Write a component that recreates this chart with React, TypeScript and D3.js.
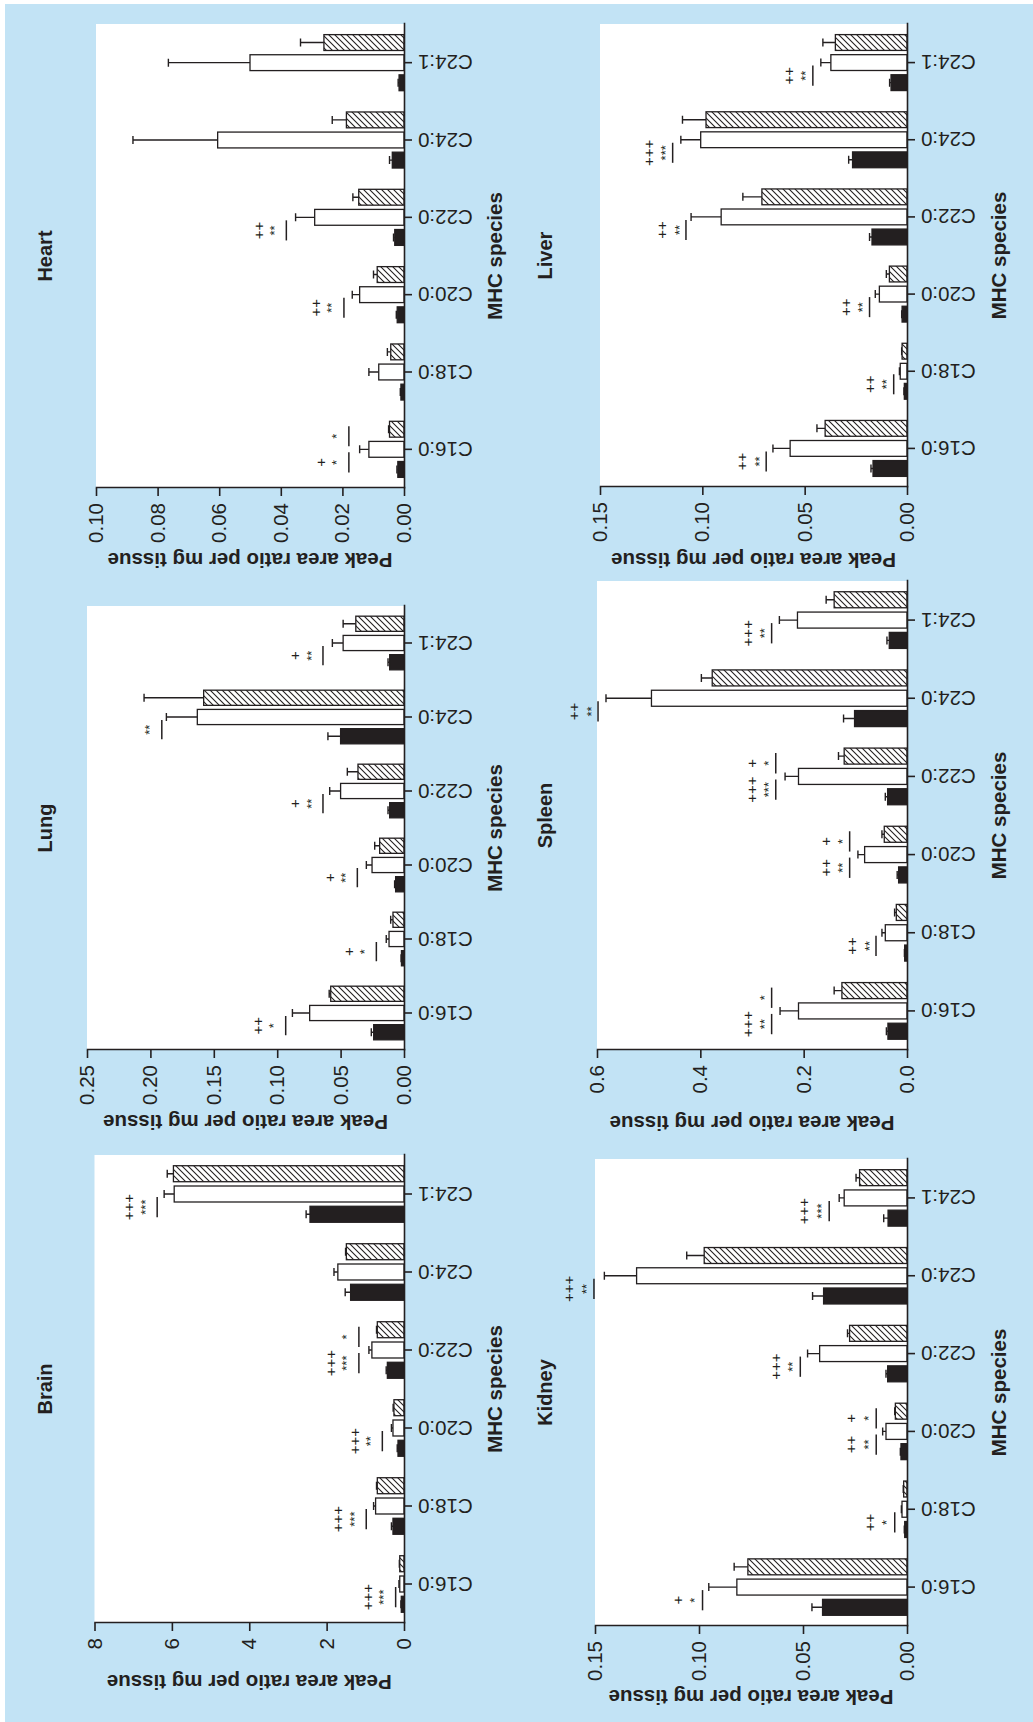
import React, { useEffect, useRef } from 'react';
import * as d3 from 'd3';

const categories = ['C16:0', 'C18:0', 'C20:0', 'C22:0', 'C24:0', 'C24:1'];

// means and SEM for the three groups (black, open, hatched)
const brainBlack = [0.07, 0.285, 0.155, 0.43, 1.38, 2.43];
const brainBlackSem = [0.01, 0.04, 0.02, 0.03, 0.14, 0.1];
const brainWhite = [0.11, 0.734, 0.285, 0.83, 1.71, 5.94];
const brainWhiteSem = [0.02, 0.052, 0.04, 0.077, 0.1, 0.26];
const brainHatched = [0.11, 0.69, 0.26, 0.69, 1.49, 5.96];
const brainHatchedSem = [0.01, 0.02, 0.02, 0.02, 0.02, 0.16];

const lungBlack = [0.0239, 0.002, 0.0066, 0.0113, 0.05, 0.0113];
const lungBlackSem = [0.0019, 0.0003, 0.0008, 0.0013, 0.01, 0.0013];
const lungWhite = [0.0744, 0.0118, 0.0252, 0.05, 0.163, 0.048];
const lungWhiteSem = [0.0136, 0.0022, 0.0045, 0.0086, 0.0244, 0.0085];
const lungHatched = [0.0578, 0.0087, 0.0192, 0.0363, 0.158, 0.038];
const lungHatchedSem = [0.0012, 0.0018, 0.0039, 0.0084, 0.047, 0.01];

const heartBlack = [0.002, 0.001, 0.0022, 0.003, 0.0038, 0.0016];
const heartBlackSem = [0.0003, 0.0002, 0.0003, 0.0004, 0.0009, 0.0003];
const heartWhite = [0.0114, 0.0082, 0.0144, 0.029, 0.0605, 0.05];
const heartWhiteSem = [0.003, 0.0032, 0.0024, 0.0062, 0.0275, 0.0265];
const heartHatched = [0.0047, 0.0043, 0.0087, 0.0147, 0.0187, 0.026];
const heartHatchedSem = [0.0003, 0.0011, 0.0012, 0.0019, 0.0046, 0.0076];

const kidneyBlack = [0.0406, 0.0011, 0.0029, 0.0093, 0.0401, 0.0091];
const kidneyBlackSem = [0.0051, 0.0002, 0.0003, 0.0008, 0.0053, 0.0021];
const kidneyWhite = [0.0818, 0.0024, 0.0101, 0.042, 0.13, 0.0302];
const kidneyWhiteSem = [0.0135, 0.0003, 0.0016, 0.0058, 0.0155, 0.0024];
const kidneyHatched = [0.0765, 0.0016, 0.0056, 0.0276, 0.0975, 0.0228];
const kidneyHatchedSem = [0.0066, 0.0002, 0.0003, 0.001, 0.0084, 0.0017];

const spleenBlack = [0.0369, 0.0045, 0.0162, 0.0375, 0.1015, 0.0343];
const spleenBlackSem = [0.003, 0.0005, 0.0028, 0.0045, 0.0213, 0.0045];
const spleenWhite = [0.21, 0.042, 0.082, 0.21, 0.4946, 0.212];
const spleenWhiteSem = [0.0357, 0.0065, 0.013, 0.026, 0.088, 0.035];
const spleenHatched = [0.126, 0.0207, 0.044, 0.1216, 0.377, 0.141];
const spleenHatchedSem = [0.015, 0.0033, 0.0045, 0.011, 0.021, 0.0155];

const liverBlack = [0.0166, 0.0013, 0.0024, 0.0171, 0.0266, 0.0078];
const liverBlackSem = [0.001, 0.0002, 0.0002, 0.0012, 0.0019, 0.0007];
const liverWhite = [0.0571, 0.0033, 0.0135, 0.0908, 0.1008, 0.0372];
const liverWhiteSem = [0.0084, 0.0004, 0.002, 0.0147, 0.0097, 0.0049];
const liverHatched = [0.04, 0.0024, 0.0086, 0.0709, 0.0982, 0.035];
const liverHatchedSem = [0.004, 0.0002, 0.0015, 0.0093, 0.0115, 0.0061];

// significance marks: [category, pair, bracket level, stars, plus signs]
// pair 'bw' = black vs open, 'wh' = open vs hatched
type Mark = [string, string, number, string, string];
const brainMarks: Mark[] = [
  ['C16:0', 'bw', 0.216, '***', '+++'],
  ['C18:0', 'bw', 0.976, '***', '+++'],
  ['C20:0', 'bw', 0.56, '**', '+++'],
  ['C22:0', 'bw', 1.166, '***', '+++'],
  ['C22:0', 'wh', 1.166, '*', ''],
  ['C24:1', 'bw', 6.38, '***', '+++'],
];
const lungMarks: Mark[] = [
  ['C16:0', 'bw', 0.0933, '*', '++'],
  ['C18:0', 'bw', 0.0218, '*', '+'],
  ['C20:0', 'bw', 0.0368, '**', '+'],
  ['C22:0', 'bw', 0.0639, '**', '+'],
  ['C24:0', 'bw', 0.191, '**', ''],
  ['C24:1', 'bw', 0.0639, '**', '+'],
];
const heartMarks: Mark[] = [
  ['C16:0', 'bw', 0.0179, '*', '+'],
  ['C16:0', 'wh', 0.0179, '*', ''],
  ['C20:0', 'bw', 0.0195, '**', '++'],
  ['C22:0', 'bw', 0.0382, '**', '++'],
];
const kidneyMarks: Mark[] = [
  ['C16:0', 'bw', 0.0983, '*', '+'],
  ['C18:0', 'bw', 0.0059, '*', '++'],
  ['C20:0', 'bw', 0.0148, '**', '++'],
  ['C20:0', 'wh', 0.0148, '*', '+'],
  ['C22:0', 'bw', 0.0513, '**', '+++'],
  ['C24:0', 'bw', 0.1505, '**', '+++'],
  ['C24:1', 'bw', 0.0374, '***', '+++'],
];
const spleenMarks: Mark[] = [
  ['C16:0', 'bw', 0.262, '**', '+++'],
  ['C16:0', 'wh', 0.262, '*', ''],
  ['C18:0', 'bw', 0.06, '**', '++'],
  ['C20:0', 'bw', 0.111, '**', '++'],
  ['C20:0', 'wh', 0.111, '*', '+'],
  ['C22:0', 'bw', 0.254, '***', '+++'],
  ['C22:0', 'wh', 0.254, '*', '+'],
  ['C24:0', 'bw', 0.598, '**', '++'],
  ['C24:1', 'bw', 0.262, '**', '+++'],
];
const liverMarks: Mark[] = [
  ['C16:0', 'bw', 0.0688, '**', '++'],
  ['C18:0', 'bw', 0.0065, '**', '++'],
  ['C20:0', 'bw', 0.0183, '**', '++'],
  ['C22:0', 'bw', 0.108, '**', '++'],
  ['C24:0', 'bw', 0.1145, '***', '+++'],
  ['C24:1', 'bw', 0.046, '**', '++'],
];

const INK = '#231f20';
const FONT = "'Liberation Sans', Arial, Helvetica, sans-serif";

// Panels are laid out in the un-rotated (landscape) frame; the whole figure
// is then turned 90deg counter-clockwise, like the printed page.
const panels = [
  { title: 'Brain', v: [brainBlack, brainWhite, brainHatched], e: [brainBlackSem, brainWhiteSem, brainHatchedSem], marks: brainMarks,
    max: 8, step: 2, fmt: d3.format('d'), x0: 99, x1: 567, top: 94.5, zero: 404, titleOff: 59, head: 45, foot: 494, starOff: 15, plusOff: 28 },
  { title: 'Lung', v: [lungBlack, lungWhite, lungHatched], e: [lungBlackSem, lungWhiteSem, lungHatchedSem], marks: lungMarks,
    max: 0.25, step: 0.05, fmt: d3.format('.2f'), x0: 672, x1: 1116, top: 87, zero: 404, titleOff: 72, head: 45, foot: 494, starOff: 15, plusOff: 28 },
  { title: 'Heart', v: [heartBlack, heartWhite, heartHatched], e: [heartBlackSem, heartWhiteSem, heartHatchedSem], marks: heartMarks,
    max: 0.1, step: 0.02, fmt: d3.format('.2f'), x0: 1234, x1: 1698, top: 96, zero: 404, titleOff: 72, head: 45, foot: 494, starOff: 15, plusOff: 28 },
  { title: 'Kidney', v: [kidneyBlack, kidneyWhite, kidneyHatched], e: [kidneyBlackSem, kidneyWhiteSem, kidneyHatchedSem], marks: kidneyMarks,
    max: 0.15, step: 0.05, fmt: d3.format('.2f'), x0: 96, x1: 563, top: 595, zero: 907, titleOff: 71, head: 545, foot: 998, starOff: 11, plusOff: 25 },
  { title: 'Spleen', v: [spleenBlack, spleenWhite, spleenHatched], e: [spleenBlackSem, spleenWhiteSem, spleenHatchedSem], marks: spleenMarks,
    max: 0.6, step: 0.2, fmt: d3.format('.1f'), x0: 672, x1: 1141, top: 597, zero: 907, titleOff: 73, head: 545, foot: 998, starOff: 10, plusOff: 24 },
  { title: 'Liver', v: [liverBlack, liverWhite, liverHatched], e: [liverBlackSem, liverWhiteSem, liverHatchedSem], marks: liverMarks,
    max: 0.15, step: 0.05, fmt: d3.format('.2f'), x0: 1235, x1: 1698, top: 600, zero: 907, titleOff: 73, head: 545, foot: 998, starOff: 10, plusOff: 24 },
];

function drawPanel(g: any, p: any) {
  const x = d3.scaleBand<string>().domain(categories).range([p.x0, p.x1]);
  const y = d3.scaleLinear().domain([0, p.max]).range([p.zero, p.top]);
  const bw = x.bandwidth();
  const barW = bw * 0.205;
  const off = bw * 0.26;
  const mid = (c: string) => (x(c) as number) + bw / 2;

  g.append('rect')
    .attr('x', p.x0).attr('y', p.top)
    .attr('width', p.x1 - p.x0).attr('height', p.zero - p.top)
    .attr('fill', '#fff');

  const fills = [INK, '#fff', 'url(#hatch)'];
  [-off, 0, off].forEach((dx, k) => {
    const rows = categories.map((c, i) => ({ c, v: p.v[k][i], e: p.e[k][i] }));
    const cx = (d: any) => mid(d.c) + dx;

    g.append('g').selectAll('path').data(rows).join('path')
      .attr('d', (d: any) => {
        const t = y(d.v + d.e);
        return `M${cx(d)},${y(d.v)}V${t}M${cx(d) - 4},${t}H${cx(d) + 4}`;
      })
      .attr('fill', 'none').attr('stroke', INK).attr('stroke-width', 1.4);

    g.append('g').selectAll('rect').data(rows).join('rect')
      .attr('x', (d: any) => cx(d) - barW / 2)
      .attr('y', (d: any) => y(d.v))
      .attr('width', barW)
      .attr('height', (d: any) => p.zero - y(d.v))
      .attr('fill', fills[k])
      .attr('stroke', INK).attr('stroke-width', 1.3);
  });

  // value axis
  const yAxis = g.append('g')
    .attr('transform', `translate(${p.x0},0)`)
    .call(d3.axisLeft(y).tickValues(d3.range(0, p.max + p.step / 2, p.step)).tickFormat(p.fmt)
      .tickSize(8).tickSizeOuter(0).tickPadding(7));
  yAxis.selectAll('path,line').attr('stroke', INK).attr('stroke-width', 1.6);
  yAxis.selectAll('text').attr('font-size', 20.5).attr('font-family', FONT).attr('fill', INK);

  // category axis
  const xAxis = g.append('g')
    .attr('transform', `translate(0,${p.zero})`)
    .call(d3.axisBottom(x).tickSize(8).tickSizeOuter(0));
  xAxis.selectAll('path,line').attr('stroke', INK).attr('stroke-width', 1.6);
  xAxis.selectAll('text')
    .attr('y', 0).attr('dy', null).attr('x', -14)
    .attr('transform', 'rotate(-90)')
    .attr('text-anchor', 'end').attr('dominant-baseline', 'central')
    .attr('font-size', 20.5).attr('font-family', FONT).attr('fill', INK);

  g.selectAll('.domain').attr('stroke-linecap', 'square');

  // titles
  const cxMid = (p.x0 + p.x1) / 2;
  g.append('text').attr('x', cxMid).attr('y', p.head)
    .attr('text-anchor', 'middle').attr('dominant-baseline', 'central')
    .attr('font-size', 20).attr('font-weight', 'bold').attr('font-family', FONT).attr('fill', INK)
    .text(p.title);
  g.append('text').attr('x', cxMid).attr('y', p.foot)
    .attr('text-anchor', 'middle').attr('dominant-baseline', 'central')
    .attr('font-size', 20.5).attr('font-weight', 'bold').attr('font-family', FONT).attr('fill', INK)
    .text('MHC species');
  g.append('text')
    .attr('transform', `translate(${p.x0 - p.titleOff},${(p.top + p.zero) / 2}) rotate(-90)`)
    .attr('text-anchor', 'middle').attr('dominant-baseline', 'central')
    .attr('font-size', 20.5).attr('font-weight', 'bold').attr('font-family', FONT).attr('fill', INK)
    .text('Peak area ratio per mg tissue');

  // significance brackets
  p.marks.forEach(([cat, pair, level, stars, plus]: Mark) => {
    const c = mid(cat);
    const a = pair === 'bw' ? c - off - 3 : c + 3;
    const b = pair === 'bw' ? c - 3 : c + off + 3;
    const ly = y(level);
    g.append('line').attr('x1', a).attr('x2', b).attr('y1', ly).attr('y2', ly)
      .attr('stroke', INK).attr('stroke-width', 1.5);
    const tx = (a + b) / 2;
    if (stars) {
      g.append('text').attr('x', tx).attr('y', ly - p.starOff + 13 * 0.58)
        .attr('text-anchor', 'middle').attr('font-size', 13).attr('font-family', FONT).attr('fill', INK)
        .text(stars);
    }
    if (plus) {
      g.append('text').attr('x', tx).attr('y', ly - p.plusOff + 15 * 0.35)
        .attr('text-anchor', 'middle').attr('font-size', 15).attr('font-family', FONT).attr('fill', INK)
        .text(plus);
    }
  });
}

export default function App() {
  const ref = useRef<SVGSVGElement>(null);

  useEffect(() => {
    const svg = d3.select(ref.current);
    svg.selectAll('*').remove();

    const defs = svg.append('defs');
    const pat = defs.append('pattern').attr('id', 'hatch')
      .attr('patternUnits', 'userSpaceOnUse').attr('width', 6).attr('height', 6);
    pat.append('rect').attr('width', 6).attr('height', 6).attr('fill', '#fff');
    pat.append('path').attr('d', 'M0,6L6,0M-1.5,1.5L1.5,-1.5M4.5,7.5L7.5,4.5')
      .attr('stroke', INK).attr('stroke-width', 1.1);

    svg.append('rect').attr('width', 1033).attr('height', 1722).attr('fill', '#fff');
    svg.append('rect').attr('x', 5).attr('y', 4).attr('width', 1028).attr('height', 1718).attr('fill', '#c2e3f5');

    const fig = svg.append('g').attr('transform', 'translate(0,1722) rotate(-90)');
    panels.forEach(p => drawPanel(fig.append('g'), p));
  }, []);

  return (
    <svg ref={ref} width={1033} height={1722}
      style={{ position: 'absolute', left: 0, top: 0, display: 'block' }} />
  );
}
